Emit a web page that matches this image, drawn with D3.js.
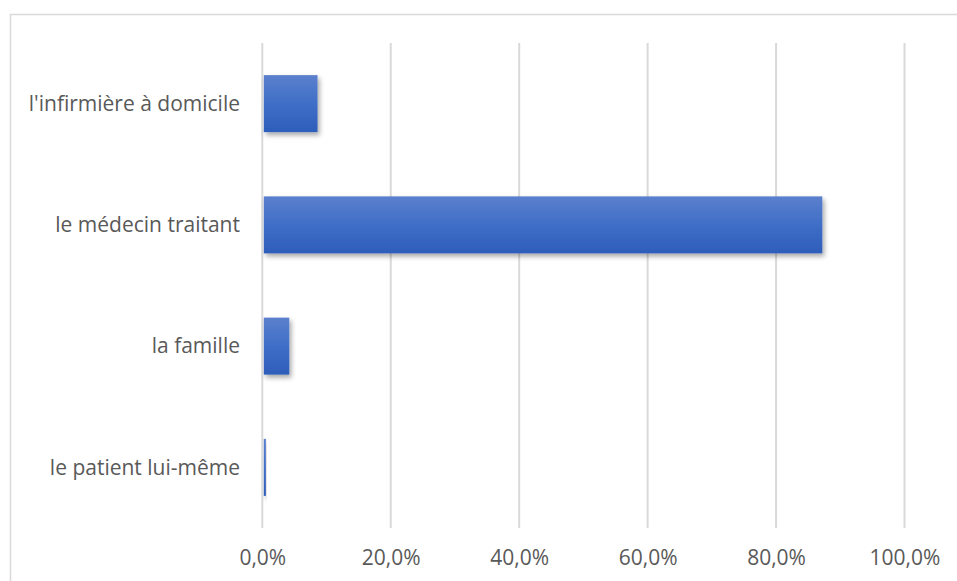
<!DOCTYPE html>
<html><head><meta charset="utf-8">
<script src="https://cdn.jsdelivr.net/npm/d3@7"></script>
<style>body{margin:0;background:#fff}</style>
</head><body>
<script>
const categories = ["l'infirmière à domicile","le médecin traitant","la famille","le patient lui-même"];
const values = [0.086, 0.872, 0.042, 0.004];
const tickValues = [0, 0.2, 0.4, 0.6, 0.8, 1.0];
const tickLabels = ["0,0%","20,0%","40,0%","60,0%","80,0%","100,0%"];

const W = 957, H = 581;
const svg = d3.select("body").append("svg").attr("width", W).attr("height", H);
const defs = svg.append("defs");
const grad = defs.append("linearGradient").attr("id","g").attr("x1",0).attr("y1",0).attr("x2",0).attr("y2",1);
grad.append("stop").attr("offset","0%").attr("stop-color","#5b80cd");
grad.append("stop").attr("offset","50%").attr("stop-color","#3f6ec7");
grad.append("stop").attr("offset","100%").attr("stop-color","#2d5db9");
const f = defs.append("filter").attr("id","sh").attr("x","-20%").attr("y","-20%").attr("width","150%").attr("height","160%");
f.append("feDropShadow").attr("dx",2).attr("dy",3).attr("stdDeviation",2.5).attr("flood-color","#000").attr("flood-opacity",0.35);

svg.append("rect").attr("x",10.5).attr("y",14.5).attr("width",960).attr("height",580)
  .attr("fill","#fff").attr("stroke","#d9d9d9").attr("stroke-width",1.5);

const pL = 262.3, pR = 904.5, pT = 43, pB = 528;
const x = d3.scaleLinear().domain([0,1]).range([pL,pR]);
const y = d3.scaleBand().domain(categories).range([pT,pB]).paddingInner(0.53).paddingOuter(0.265);

const grid = svg.append("g");
grid.selectAll("line").data(tickValues).join("line")
  .attr("x1",d=>x(d)).attr("x2",d=>x(d)).attr("y1",pT).attr("y2",pB)
  .attr("stroke","#d9d9d9").attr("stroke-width",2);

svg.append("g").selectAll("rect").data(values).join("rect")
  .attr("x",x(0)+1.5).attr("y",(d,i)=>y(categories[i]))
  .attr("width",d=>Math.max(0, x(d)-x(0)-1.5)+ (d<0.01?1:0))
  .attr("height",y.bandwidth())
  .attr("fill","url(#g)").attr("filter","url(#sh)");

const font = "'Open Sans', sans-serif";
svg.append("g").selectAll("text").data(categories).join("text")
  .attr("x",240).attr("y",d=>y(d)+y.bandwidth()/2).attr("dy","0.35em")
  .attr("text-anchor","end").attr("fill","#595959")
  .style("font-family",font).style("font-size","21px").text(d=>d);

const xAxis = d3.axisBottom(x).tickValues(tickValues).tickFormat((d,i)=>tickLabels[i]).tickSize(0).tickPadding(0);
const ax = svg.append("g").attr("transform",`translate(0,${558})`).call(xAxis);
ax.select(".domain").remove();
ax.selectAll("text").attr("dy","0.35em").attr("y",0).attr("fill","#595959")
  .style("font-family",font).style("font-size","21px");
</script>
</body></html>
